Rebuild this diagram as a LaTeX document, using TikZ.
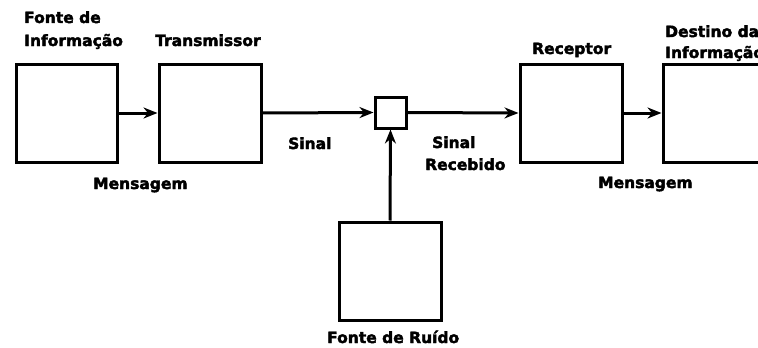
\documentclass[tikz,border=0pt]{standalone}
\usepackage{fontspec}
\setmainfont{DejaVu Sans}
\newfontfamily\heavyfont{DejaVu Sans Bold}[FakeBold=2.5]
\usetikzlibrary{arrows.meta}
\begin{document}
\begin{tikzpicture}[x=1pt,y=-1pt,
  box/.style={draw=black, line width=3pt, fill=white, inner sep=0pt},
  arr/.style={line width=3pt, -{Stealth[length=14pt,width=11pt,inset=4.5pt]}},
  lbl/.style={font=\heavyfont\fontsize{15.5}{18}\selectfont, inner sep=0pt, anchor=base west}]
\path[use as bounding box, clip] (0,0) rectangle (758,348);
\fill[white] (0,0) rectangle (758,348);
\node[box, minimum width=101pt, minimum height=98pt] (src) at (66.5,113) {};
\node[box, minimum width=102pt, minimum height=98pt] (tx) at (210,113) {};
\node[box, minimum width=31pt, minimum height=31pt] (sum) at (390.5,112.5) {};
\node[box, minimum width=102pt, minimum height=98pt] (rx) at (571,113) {};
\node[box, minimum width=102pt, minimum height=98pt] (dst) at (714,113) {};
\node[box, minimum width=102pt, minimum height=98pt] (noise) at (390,271) {};
\draw[arr] (src.east) -- (tx.west);
\draw[arr] (tx.east) -- (sum.west);
\draw[arr] (sum.east) -- (rx.west);
\draw[arr] (rx.east) -- (dst.west);
\draw[arr] (noise.north) -- (sum.south);
\node[lbl] (l1) at (24,23) {Fonte de};
\node[lbl] (l2) at (24,46) {Informação};
\node[lbl] (l3) at (155,46) {Transmissor};
\node[lbl] (l4) at (93,189) {Mensagem};
\node[lbl] (l5) at (288,149) {Sinal};
\node[lbl] (l6) at (432,148) {Sinal};
\node[lbl] (l7) at (425,170) {Recebido};
\node[lbl] (l8) at (532,54) {Receptor};
\node[lbl] (l9) at (665,37) {Destino da};
\node[lbl] (l10) at (665,58) {Informação};
\node[lbl] (l11) at (598,188) {Mensagem};
\node[lbl] (l12) at (327,343) {Fonte de Ruído};
\end{tikzpicture}
\end{document}
